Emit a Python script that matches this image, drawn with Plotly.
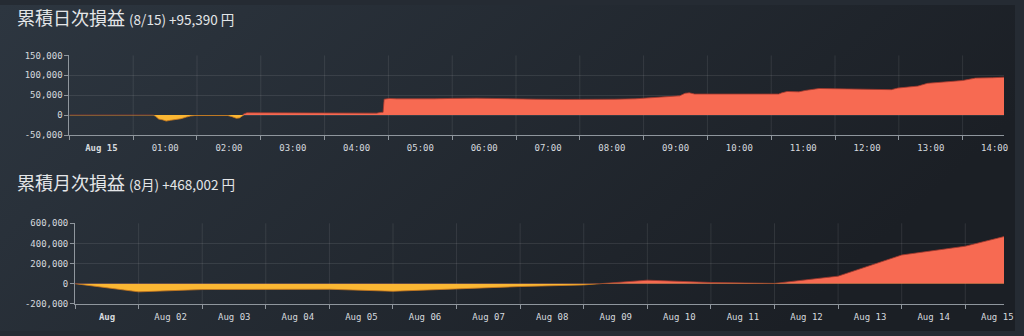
import base64
import plotly.graph_objects as go

# ---- cumulative intraday P&L (Aug 15) ----
DAY = "2024-08-15"
daily_times = [
    "00:00", "01:19", "01:21", "01:24", "01:28", "01:31", "01:35", "01:40", "01:45",
    "01:50", "01:54", "01:58", "02:18", "02:20", "02:22", "02:26", "02:29", "02:33",
    "02:37", "02:40", "02:42", "02:44", "02:47", "02:53", "02:55", "03:35", "04:49",
    "04:53", "04:55", "04:56", "05:01", "05:08", "05:27", "05:43", "05:59", "06:13",
    "06:23", "06:37", "06:48", "07:00", "07:19", "07:47", "08:15", "08:33", "08:52",
    "09:04", "09:18", "09:27", "09:34", "09:39", "09:43", "09:48", "11:07", "11:10",
    "11:15", "11:26", "11:32", "11:45", "12:05", "12:24", "12:36", "12:53", "12:59",
    "13:06", "13:18", "13:27", "13:38", "13:51", "14:00", "14:12", "14:28", "14:35",
    "14:39",
]
daily_pnl = [
    0, 0, -3000, -10000, -12000, -15000, -13000, -11000, -9000,
    -5000, -2000, -1000, -1000, -2000, -1000, -1500, -1000, -4000,
    -8000, -7000, -2000, 3000, 6000, 6000, 5000, 5000, 5000,
    7000, 7000, 40000, 42000, 41000, 40000, 41000, 42000, 43000,
    42500, 42000, 41000, 40000, 40000, 39500, 39000, 40000, 41000,
    43000, 45500, 46500, 48500, 55000, 56000, 53000, 53000, 56000,
    59500, 58500, 62000, 67000, 66000, 66000, 65000, 64000, 68000,
    70000, 73000, 80000, 83000, 85000, 87000, 93000, 94000, 95000,
    95390,
]
daily_hours = [f"{h:02d}:00" for h in range(15)]
daily_hour_labels = ["<b>Aug 15</b>"] + daily_hours[1:]
daily_yticks = [-50000, 0, 50000, 100000, 150000]

# ---- cumulative monthly P&L (August) ----
monthly_dates = [f"2024-08-{d:02d}" for d in range(1, 16)] + ["2024-08-15 14:39"]
monthly_pnl = [
    0, -81000, -58000, -55000, -55000, -75000, -48000, -28000,
    -12000, 35000, 12000, 3000, 75000, 285000, 372612, 468002,
]
monthly_days = [f"2024-08-{d:02d}" for d in range(1, 16)]
monthly_day_labels = ["<b>Aug</b>"] + [f"Aug {d:02d}" for d in range(2, 16)]
monthly_yticks = [-200000, 0, 200000, 400000, 600000]

POS = "#f76a52"
NEG = "#fbb733"
POS_EDGE = "rgba(165,58,46,0.8)"
NEG_EDGE = "rgba(200,120,30,0.8)"
GRID = "rgba(255,255,255,0.09)"
AXIS = "#8f969d"
TICK_FONT = dict(family="DejaVu Sans Mono", size=9, color="#d6dadf")

W, H = 1024, 336


def xaxis(domain, ticks, labels, rng, anchor):
    return dict(
        domain=domain, anchor=anchor, type="date", range=rng,
        tickmode="array", tickvals=ticks, ticktext=labels,
        ticklabelshift=32, tickfont=TICK_FONT,
        ticks="outside", ticklen=4, tickcolor=AXIS,
        showline=True, linecolor=AXIS, linewidth=1,
        showgrid=False, zeroline=False, fixedrange=True,
    )


def yaxis(domain, ticks, rng, anchor):
    return dict(
        domain=domain, anchor=anchor, range=rng,
        tickmode="array", tickvals=ticks, ticktext=[f"{v:,}" for v in ticks],
        tickfont=TICK_FONT,
        ticks="outside", ticklen=4, tickcolor=AXIS,
        showline=True, linecolor=AXIS, linewidth=1,
        showgrid=True, gridcolor=GRID, gridwidth=1,
        zeroline=False, fixedrange=True,
    )


def hidden_y(domain, rng, anchor):
    return dict(domain=domain, range=rng, anchor=anchor, visible=False,
                showgrid=False, zeroline=False, fixedrange=True)


fig = go.Figure()
layout_axes = {}
grid_shapes = []


def add_panel(xname, yname, pos_y, neg_y, x, y, dom_x, dom_y, rng_y, ticks_x, labels_x,
              rng_x, ticks_y):
    """Area chart whose fill is coral above zero and amber below zero.
    The two colours come from two invisible y axes that split the panel at
    the zero line, so each copy of the area is clipped to its own half."""
    lo, hi = rng_y
    y_zero = dom_y[0] + (dom_y[1] - dom_y[0]) * (0 - lo) / (hi - lo)
    layout_axes["xaxis" + xname[1:]] = xaxis(dom_x, ticks_x, labels_x, rng_x, yname)
    layout_axes["yaxis" + yname[1:]] = yaxis(dom_y, ticks_y, rng_y, xname)
    layout_axes["yaxis" + pos_y[1:]] = hidden_y([y_zero, dom_y[1]], [0, hi], xname)
    layout_axes["yaxis" + neg_y[1:]] = hidden_y([dom_y[0], y_zero], [lo, 0], xname)
    # empty trace so the framed subplot (axes, ticks, horizontal grid) exists
    fig.add_trace(go.Scatter(x=[], y=[], xaxis=xname, yaxis=yname,
                             showlegend=False, hoverinfo="skip"))
    for ax, fill, edge in ((neg_y, NEG, NEG_EDGE), (pos_y, POS, POS_EDGE)):
        fig.add_trace(go.Scatter(
            x=x, y=y, mode="lines", line=dict(color=edge, width=1),
            fill="tozeroy", fillcolor=fill,
            xaxis=xname, yaxis=ax, hoverinfo="skip", showlegend=False,
        ))
    # vertical grid at each period boundary, kept beneath the fills
    for t in ticks_x[1:]:
        grid_shapes.append(dict(
            type="line", xref=xname, yref=yname + " domain",
            x0=t, x1=t, y0=0, y1=1, layer="below",
            line=dict(color=GRID, width=1),
        ))


add_panel("x", "y", "y3", "y4",
          [f"{DAY} {t}" for t in daily_times], daily_pnl,
          [70 / W, 1013 / W], [1 - 134 / H, 1 - 52 / H], [-50000, 150000],
          [f"{DAY} {h}" for h in daily_hours], daily_hour_labels,
          [f"{DAY} 00:00", f"{DAY} 14:39"], daily_yticks)
add_panel("x2", "y2", "y5", "y6",
          monthly_dates, monthly_pnl,
          [75.7 / W, 1013 / W], [1 - 308 / H, 1 - 225 / H], [-200000, 600000],
          monthly_days, monthly_day_labels,
          ["2024-08-01", "2024-08-15 14:39"], monthly_yticks)

svg = (
    f'<svg xmlns="http://www.w3.org/2000/svg" width="{W}" height="{H}">'
    '<defs><linearGradient id="g" x1="0" y1="0" x2="1" y2="0.35">'
    '<stop offset="0" stop-color="#2d3640"/><stop offset="1" stop-color="#1b1f25"/>'
    '</linearGradient></defs>'
    f'<rect width="{W}" height="{H}" fill="url(#g)"/></svg>'
)
bg = "data:image/svg+xml;base64," + base64.b64encode(svg.encode()).decode()

fig.update_layout(
    width=W, height=H,
    margin=dict(l=0, r=0, t=0, b=0),
    paper_bgcolor="#252b33", plot_bgcolor="rgba(0,0,0,0)",
    images=[dict(source=bg, xref="paper", yref="paper", x=0, y=1,
                 sizex=1, sizey=1, sizing="stretch", layer="below")],
    shapes=grid_shapes,
    annotations=[
        dict(text="累積日次損益 <span style='font-size:13.5px'>(8/15) +95,390 円</span>",
             x=15 / W, y=1 - 12.5 / H, xref="paper", yref="paper",
             xanchor="left", yanchor="middle", showarrow=False,
             font=dict(family="Noto Sans CJK JP", size=18, color="#e4e6e8")),
        dict(text="累積月次損益 <span style='font-size:13.5px'>(8月) +468,002 円</span>",
             x=15 / W, y=1 - 182.5 / H, xref="paper", yref="paper",
             xanchor="left", yanchor="middle", showarrow=False,
             font=dict(family="Noto Sans CJK JP", size=18, color="#e4e6e8")),
    ],
    **layout_axes,
)

fig.write_html("out.html", config={"displayModeBar": False})
